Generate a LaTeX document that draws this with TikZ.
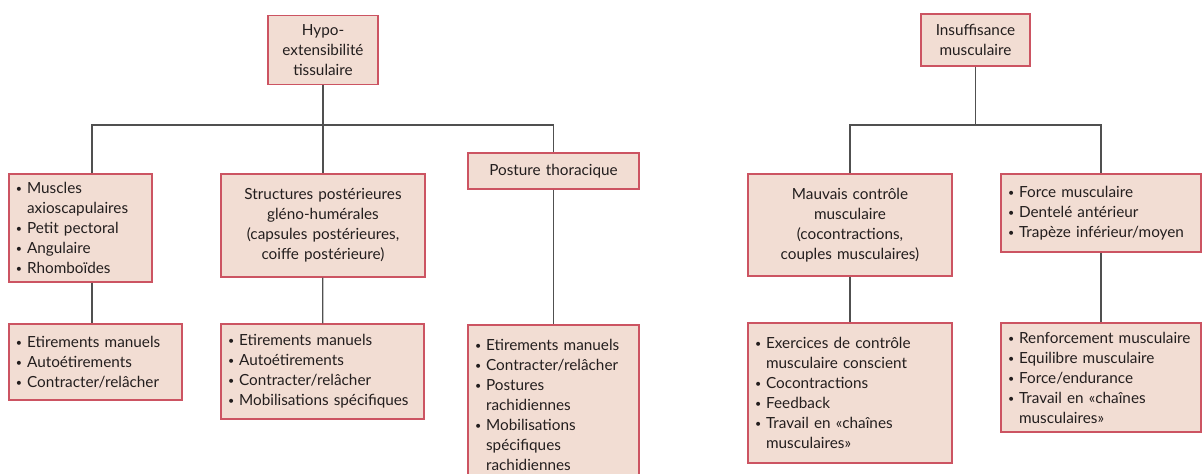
\documentclass[tikz,border=0pt]{standalone}
\usepackage{fontspec}
\setmainfont{Lato}
\usetikzlibrary{calc}
\definecolor{boxfill}{RGB}{242,221,211}
\definecolor{boxline}{RGB}{204,84,98}
\definecolor{linkgrey}{RGB}{80,80,80}
\definecolor{txt}{RGB}{35,30,30}
\hyphenpenalty=10000\relax
\def\bul{\raisebox{0.12ex}{\scalebox{0.7}{\textbullet}}\hspace{0.32em}}
\def\ind{\phantom{\bul}}
\tikzset{
	box/.style={draw=boxline, fill=boxfill, line width=1.2pt, inner xsep=7pt, inner ysep=0pt, text=txt, font=\fontsize{15.3}{20}\selectfont},
	link/.style={draw=linkgrey, line width=1.3pt},
}

\begin{document}
\begin{tikzpicture}[x=1pt, y=-1pt]
		%%%%% START %%%%%
		\useasboundingbox (0, 0) rectangle (1203, 474);
		
		\node[box, text width=96pt, minimum height=69pt, align=center] (hypo) at (323, 50) {Hypo-\\extensibilité\\tissulaire};
		
		\node[box, text width=129pt, minimum height=108pt, align=left] (muscles) at (80.5, 228) {\bul Muscles\\\ind axioscapulaires\\\bul Petit pectoral\\\bul Angulaire\\\bul Rhomboïdes};
		\node[box, text width=190pt, minimum height=103pt, align=center] (struct) at (323, 225.5) {Structures postérieures\\gléno-humérales\\(capsules postérieures,\\coiffe postérieure)};
		\node[box, text width=157pt, minimum height=36pt, align=center] (posture) at (553.5, 171) {Posture thoracique};
		
		\node[box, text width=159pt, minimum height=76pt, align=left] (etir1) at (95.5, 362) {\bul Etirements manuels\\\bul Autoétirements\\\bul Contracter/relâcher};
		\node[box, text width=189pt, minimum height=95pt, align=left] (etir2) at (322.5, 371.5) {\bul Etirements manuels\\\bul Autoétirements\\\bul Contracter/relâcher\\\bul Mobilisations spécifiques};
		\node[box, text width=157pt, minimum height=160pt, align=left] (etir3) at (553.5, 405) {\bul Etirements manuels\\\bul Contracter/relâcher\\\bul Postures\\\ind rachidiennes\\\bul Mobilisations\\\ind spécifiques\\\ind rachidiennes};
		
		\node[box, text width=95pt, minimum height=52pt, align=center] (insuff) at (975.5, 40) {Insuffisance\\musculaire};
		
		\node[box, text width=190pt, minimum height=102pt, align=center] (mauvais) at (850, 225) {Mauvais contrôle\\musculaire\\(cocontractions,\\couples musculaires)};
		\node[box, text width=186pt, minimum height=78pt, align=left] (force) at (1101, 213) {\bul Force musculaire\\\bul Dentelé antérieur\\\bul Trapèze inférieur/moyen};
		
		\node[box, text width=190pt, minimum height=140pt, align=left] (exerc) at (850, 393) {\bul Exercices de contrôle\\\ind musculaire conscient\\\bul Cocontractions\\\bul Feedback\\\bul Travail en «chaînes\\\ind musculaires»};
		\node[box, text width=186pt, minimum height=109pt, align=left] (renf) at (1101, 377.5) {\bul Renforcement~musculaire\\\bul Equilibre musculaire\\\bul Force/endurance\\\bul Travail en «chaînes\\\ind musculaires»};
		
		% left tree
		\coordinate (fork1) at (323, 125);
		\draw[link] (hypo) -- (struct);
		\draw[link] ([xshift=11.5pt]muscles.north) |- (fork1) -| (posture.north);
		\draw[link] ([xshift=11.5pt]muscles.south) -- ([xshift=11.5pt]muscles.south |- etir1.north);
		\draw[link] (struct) -- (etir2);
		\draw[link] (posture) -- (etir3);
		
		% right tree
		\coordinate (fork2) at (975.5, 125);
		\draw[link] (insuff) -- (fork2);
		\draw[link] (mauvais.north) |- (fork2) -| (force.north);
		\draw[link] (mauvais) -- (exerc);
		\draw[link] (force) -- (renf);
		%%%%% END %%%%%
	\end{tikzpicture}
\end{document}
